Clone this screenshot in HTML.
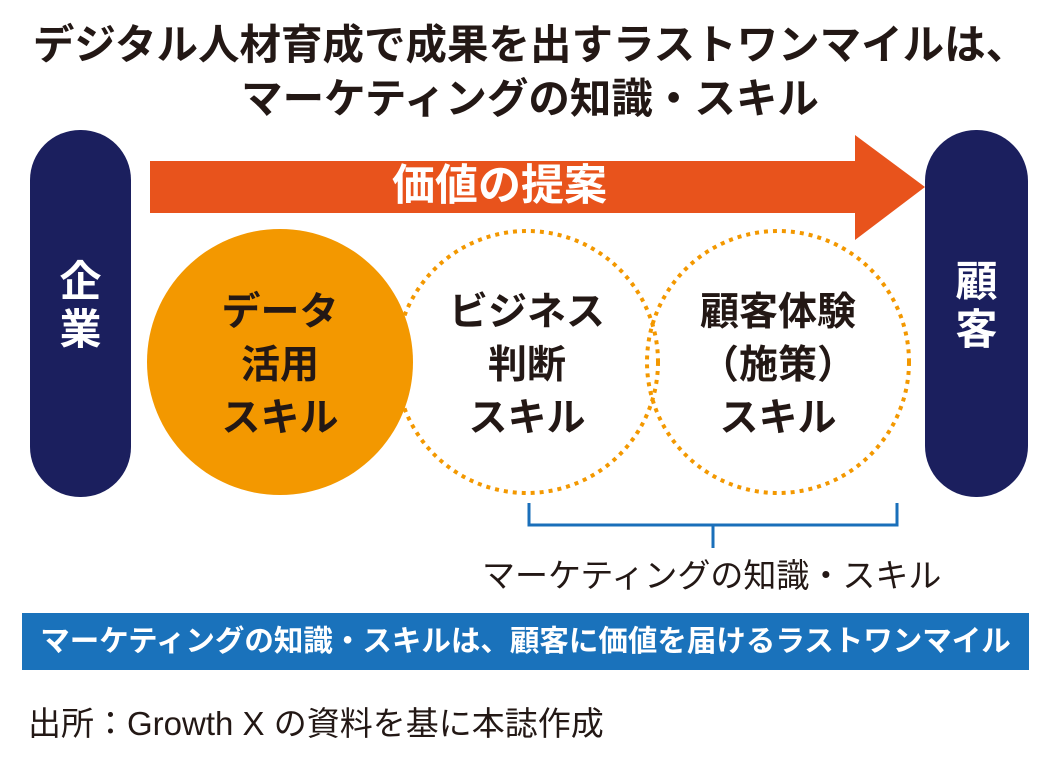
<!DOCTYPE html>
<html><head><meta charset="utf-8"><style>
body{margin:0;width:1060px;height:759px;background:#fff;position:relative;overflow:hidden;font-family:"Liberation Sans","Noto Sans CJK JP",sans-serif;color:#231815}
.t{position:absolute;white-space:nowrap}
</style></head><body>
<div class="t" style="left:0;width:1060px;text-align:center;top:18px;font-size:41.5px;font-weight:bold;line-height:54px">デジタル人材育成で成果を出すラストワンマイルは、<br>マーケティングの知識・スキル</div>
<svg width="1060" height="759" style="position:absolute;left:0;top:0">
<rect x="30" y="130" width="101" height="367" rx="50" fill="#1b1f5e"/>
<rect x="925" y="130" width="103" height="367" rx="51" fill="#1b1f5e"/>
<polygon points="150,161 855,161 855,135 925,187 855,240 855,213 150,213" fill="#e8531c"/>
<circle cx="280" cy="362" r="133" fill="#f39800"/>
<circle cx="527" cy="362" r="131" fill="none" stroke="#f39800" stroke-width="4" stroke-dasharray="4 5"/>
<circle cx="778" cy="362" r="131" fill="none" stroke="#f39800" stroke-width="4" stroke-dasharray="4 5"/>
<path d="M529,503 V525 H897 V503 M713,525 V548" fill="none" stroke="#1a6fba" stroke-width="3"/>
<rect x="22" y="613" width="1007" height="57" fill="#1a72bb"/>
</svg>
<div class="t" style="left:392px;top:160px;font-size:43px;font-weight:bold;color:#fff;line-height:52px">価値の提案</div>
<div class="t" style="left:30px;width:101px;top:258px;text-align:center;font-size:42px;font-weight:bold;color:#fff;line-height:48px">企<br>業</div>
<div class="t" style="left:925px;width:103px;top:258px;text-align:center;font-size:42px;font-weight:bold;color:#fff;line-height:48px">顧<br>客</div>
<div class="t" style="left:180px;width:200px;top:286px;text-align:center;font-size:39px;font-weight:bold;line-height:53px">データ<br>活用<br>スキル</div>
<div class="t" style="left:427px;width:200px;top:286px;text-align:center;font-size:39px;font-weight:bold;line-height:53px">ビジネス<br>判断<br>スキル</div>
<div class="t" style="left:678px;width:200px;top:286px;text-align:center;font-size:39px;font-weight:bold;line-height:53px">顧客体験<br>（施策）<br>スキル</div>
<div class="t" style="left:482px;top:554px;font-size:33px;line-height:44px">マーケティングの知識・スキル</div>
<div class="t" style="left:22px;width:1007px;top:613px;text-align:center;font-size:29.5px;font-weight:bold;color:#fff;line-height:57px">マーケティングの知識・スキルは、顧客に価値を届けるラストワンマイル</div>
<div class="t" style="left:28px;top:702px;font-size:33px;line-height:44px">出所：Growth X の資料を基に本誌作成</div>
</body></html>
